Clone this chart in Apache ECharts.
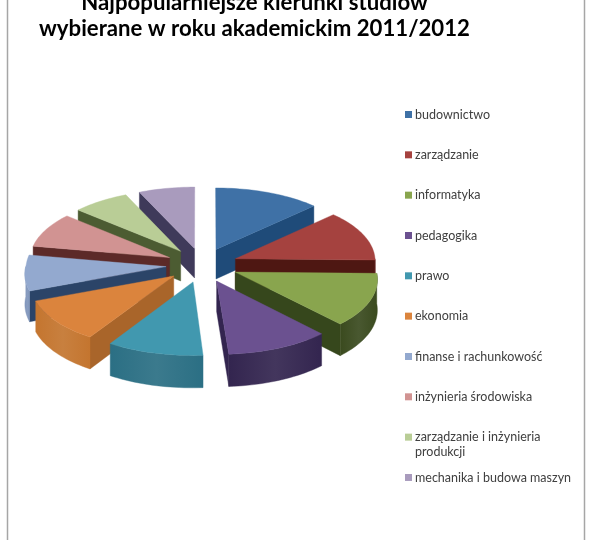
<!DOCTYPE html>
<html>
<head>
<meta charset="utf-8">
<style>html,body{margin:0;padding:0;background:#fff;overflow:hidden}#c{width:596px;height:540px}</style>
<script src="https://cdn.jsdelivr.net/npm/echarts@6/dist/echarts.min.js"></script>
</head>
<body>
<div id="c"></div>
<script>
const categories = ['budownictwo','zarządzanie','informatyka','pedagogika','prawo','ekonomia','finanse i rachunkowość','inżynieria środowiska','zarządzanie i inżynieria','mechanika i budowa maszyn'];
const shares = [12.8,12.5,12.8,10.8,10.0,10.3,8.6,8.6,6.9,6.7];
const topColors = ['#3F71A6','#A5423F','#89A54E','#6B5190','#4198AF','#DB843D','#93A9CF','#D19392','#B9CD96','#A99BBD'];
const wallColors = ['#1F4B79','#4E1712','#36471C','#33254F','#2B6F84','#A9652A','#2B4468','#5C2A28','#4C5C32','#3F3A5A'];
const rimColors = ['#2A5A8C','#6E2A27','#3A4A1E','#33254F','#2B6F84','#C4752F','#7F95BB','#A56F6E','#8FA36E','#7F7396'];

const CX = 202, CY = 265, R = 140, TILT = 0.478, PERSP = 0.06, GAP = 36, DEPTH = 30;
const total = shares.reduce((a, b) => a + b, 0);
function startAngle(i) {
  let s = 0;
  for (let k = 0; k < i; k++) s += shares[k];
  return s / total * Math.PI * 2;
}
function project(X, Y, drop) {
  const s = 1 / (1 - PERSP * Y / R);
  const sx = 1 + (Y > 0 ? 1.5 : 0.5) * (s - 1);
  return [CX + X * sx, CY + TILT * Y * s + drop * s];
}
function renderSlice(idx) {
  return function (params, api) {
    const a0 = startAngle(idx);
    const a1 = a0 + api.value(0) / total * Math.PI * 2;
    const mid = (a0 + a1) / 2;
    const ox = GAP * Math.sin(mid), oy = -GAP * Math.cos(mid);
    const pt = (t, d) => project(ox + R * Math.sin(t), oy - R * Math.cos(t), d);
    const apex = d => project(ox, oy, d);
    const arc = (s, e, d) => {
      const n = Math.max(2, Math.ceil((e - s) / 0.03)), out = [];
      for (let i = 0; i <= n; i++) out.push(pt(s + (e - s) * i / n, d));
      return out;
    };
    const base = (-Math.cos(mid) + 1) * 100 | 0;
    const kids = [];
    const poly = (points, fill, order) => kids.push({
      type: 'polygon', z2: base * 10 + order, silent: true,
      shape: { points }, style: { fill: fill, stroke: fill, lineWidth: 0.4 }
    });
    const wall = t => [apex(0), pt(t, 0), pt(t, DEPTH), apex(DEPTH)];
    if (Math.sin(a1) > 0) poly(wall(a1), wallColors[idx], 1);
    if (Math.sin(a0) < 0) poly(wall(a0), wallColors[idx], 1);
    const s = Math.max(a0, Math.PI / 2), e = Math.min(a1, Math.PI * 1.5);
    if (e > s) {
      const c = rimColors[idx];
      poly(arc(s, e, 0).concat(arc(s, e, DEPTH).reverse()), {
        type: 'linear', x: 0, y: 0, x2: 1, y2: 0,
        colorStops: [{ offset: 0, color: c }, { offset: 0.5, color: echarts.color.lift(c, 0.08) }, { offset: 1, color: c }]
      }, 2);
    }
    poly([apex(0)].concat(arc(a0, a1, 0)), topColors[idx], 3);
    return { type: 'group', children: kids };
  };
}
const option = {
  animation: false,
  backgroundColor: '#ffffff',
  color: topColors,
  legend: {
    orient: 'vertical', left: 400, top: 101.5,
    icon: 'rect', itemWidth: 7, itemHeight: 7, itemGap: 24.33,
    selectedMode: false,
    data: categories,
    textStyle: { fontFamily: 'Lato', fontSize: 12.5, color: '#404040', height: 16, lineHeight: 16, padding: [0, 0, 0, -2] }
  },
  graphic: [
    { type: 'rect', silent: true, z: 0, shape: { x: 7.5, y: -5, width: 577, height: 555 }, style: { fill: '#fff', stroke: '#a6a6a6', lineWidth: 1.5 } },
    { type: 'text', silent: true, z: 5, x: 254.5, y: 3, style: { text: 'Najpopularniejsze kierunki studiów', align: 'center', verticalAlign: 'middle', font: 'bold 22.2px Lato', fill: '#000' } },
    { type: 'text', silent: true, z: 5, x: 254.5, y: 29, style: { text: 'wybierane w roku akademickim 2011/2012', align: 'center', verticalAlign: 'middle', font: 'bold 22.2px Lato', fill: '#000' } },
    { type: 'text', silent: true, z: 5, x: 415, y: 452, style: { text: 'produkcji', align: 'left', verticalAlign: 'middle', font: '12.5px Lato', fill: '#404040' } }
  ],
  series: categories.map((name, i) => ({
    type: 'custom', name: name, coordinateSystem: 'none', silent: true, z: 3,
    itemStyle: { color: topColors[i] },
    renderItem: renderSlice(i),
    data: [[shares[i]]]
  }))
};
const chart = echarts.init(document.getElementById('c'), null, { renderer: 'canvas' });
chart.setOption(option);
</script>
</body>
</html>
